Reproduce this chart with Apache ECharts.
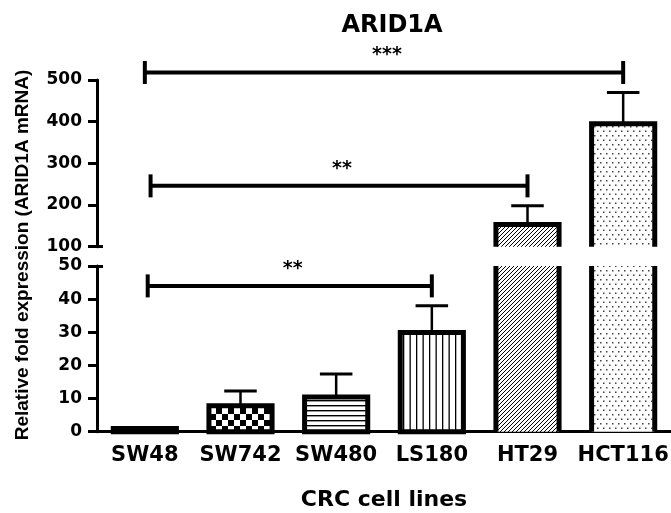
<!DOCTYPE html>
<html>
<head>
<meta charset="utf-8">
<script src="https://cdn.jsdelivr.net/npm/echarts@6/dist/echarts.min.js"></script>
<style>
  html, body { margin: 0; padding: 0; background: #fff; }
  #chart { width: 671px; height: 513px; }
</style>
</head>
<body>
<div id="chart"></div>
<script>
// data
const categories = ['SW48', 'SW742', 'SW480', 'LS180', 'HT29', 'HCT116'];
const meanValues = [1, 7.8, 10.5, 29.9, 153, 395];
const semValues = [0, 4.5, 6.9, 8.1, 45, 75];
const barPatterns = ['solid', 'checker', 'hlines', 'vlines', 'diagonal', 'dots'];

// broken y axis: upper and lower segments
const upperRange = [100, 500, 100];
const lowerRange = [0, 50, 10];

// significance brackets (category index from / to, height, label, segment)
const bracketFrom = [0, 0.06, 0.03];
const bracketTo = [5, 4, 3];
const bracketY = [518, 246, 44];
const bracketLabel = ['***', '**', '**'];
const bracketSegment = [0, 0, 1];

const FONT = '"DejaVu Sans", sans-serif';

function makePattern(kind) {
  if (kind === 'solid') return '#000';
  const c = document.createElement('canvas');
  let w = 6, h = 6;
  if (kind === 'checker') { w = 12; h = 12; }
  if (kind === 'hlines') { w = 4; h = 5; }
  if (kind === 'vlines') { w = 13; h = 4; }
  if (kind === 'diagonal') { w = 4; h = 4; }
  if (kind === 'dots') { w = 6; h = 9; }
  c.width = w; c.height = h;
  const ctx = c.getContext('2d');
  ctx.fillStyle = '#fff';
  ctx.fillRect(0, 0, w, h);
  ctx.fillStyle = '#000';
  ctx.strokeStyle = '#000';
  if (kind === 'checker') {
    ctx.fillRect(0, 0, 6, 6);
    ctx.fillRect(6, 6, 6, 6);
  } else if (kind === 'hlines') {
    ctx.fillRect(0, 0, w, 1.4);
  } else if (kind === 'vlines') {
    ctx.fillRect(0, 0, 1.3, h);
    ctx.fillRect(6.5, 0, 1.3, h);
  } else if (kind === 'diagonal') {
    ctx.lineWidth = 1;
    ctx.beginPath();
    ctx.moveTo(0, 4); ctx.lineTo(4, 0);
    ctx.moveTo(-1, 1); ctx.lineTo(1, -1);
    ctx.moveTo(3, 5); ctx.lineTo(5, 3);
    ctx.stroke();
  } else if (kind === 'dots') {
    ctx.fillStyle = '#444';
    ctx.fillRect(0, 0, 1.5, 1.5);
    ctx.fillRect(3, 4.5, 1.5, 1.5);
  }
  return { image: c, repeat: 'repeat' };
}
const fills = barPatterns.map(makePattern);

function barRenderer(yMin, yMax) {
  return function (params, api) {
    const i = params.dataIndex;
    const v = meanValues[i];
    if (v <= yMin) return;
    const band = api.size([1, 0])[0];
    const half = band * 0.33;
    const base = api.coord([i, yMin]);
    const cx = base[0];
    const yBase = base[1];
    const clipped = v > yMax;
    const yTop = api.coord([i, Math.min(v, yMax)])[1];
    const line = { stroke: '#000', lineWidth: 5, fill: null, lineJoin: 'miter', lineCap: 'butt' };
    const children = [];
    if (!clipped && semValues[i] > 0) {
      const yErr = api.coord([i, v + semValues[i]])[1];
      const cap = band * 0.17;
      children.push({ type: 'line', shape: { x1: cx, y1: yTop, x2: cx, y2: yErr }, style: { stroke: '#000', lineWidth: 2.5 } });
      children.push({ type: 'line', shape: { x1: cx - cap, y1: yErr, x2: cx + cap, y2: yErr }, style: { stroke: '#000', lineWidth: 3 } });
    }
    children.push({ type: 'rect', shape: { x: cx - half, y: yTop, width: half * 2, height: yBase - yTop }, style: { fill: fills[i] } });
    if (clipped) {
      children.push({ type: 'line', shape: { x1: cx - half, y1: yBase, x2: cx - half, y2: yTop }, style: line });
      children.push({ type: 'line', shape: { x1: cx + half, y1: yBase, x2: cx + half, y2: yTop }, style: line });
    } else if (yMin > 0) {
      children.push({ type: 'polyline', shape: { points: [[cx - half, yBase], [cx - half, yTop], [cx + half, yTop], [cx + half, yBase]] }, style: line });
    } else {
      children.push({ type: 'rect', shape: { x: cx - half, y: yTop, width: half * 2, height: yBase - yTop }, style: line });
    }
    return { type: 'group', children: children };
  };
}

function bracketRenderer(list) {
  return function (params, api) {
    const k = list[params.dataIndex];
    const band = api.size([1, 0])[0];
    const i0 = Math.floor(bracketFrom[k]);
    const i1 = Math.floor(bracketTo[k]);
    const p0 = api.coord([i0, bracketY[k]]);
    const x1 = p0[0] + (bracketFrom[k] - i0) * band;
    const x2 = api.coord([i1, bracketY[k]])[0] + (bracketTo[k] - i1) * band;
    const y = p0[1];
    const capH = 11.5;
    const st = { stroke: '#000', lineWidth: 4 };
    return {
      type: 'group',
      children: [
        { type: 'line', shape: { x1: x1, y1: y, x2: x2, y2: y }, style: st },
        { type: 'line', shape: { x1: x1, y1: y - capH, x2: x1, y2: y + capH }, style: st },
        { type: 'line', shape: { x1: x2, y1: y - capH, x2: x2, y2: y + capH }, style: st },
        { type: 'text', style: { text: bracketLabel[k], x: (x1 + x2) / 2 + 3, y: y - 17, align: 'center', verticalAlign: 'middle', font: 'bold 19px ' + FONT, fill: '#000' } }
      ]
    };
  };
}

const axisBlack = { color: '#000', width: 3 };
const tickLabel = { color: '#000', fontFamily: FONT, fontWeight: 'bold', fontSize: 17, margin: 15 };

const upperBrackets = [0, 1, 2].filter(k => bracketSegment[k] === 0);
const lowerBrackets = [0, 1, 2].filter(k => bracketSegment[k] === 1);

const chart = echarts.init(document.getElementById('chart'), null, { renderer: 'canvas' });
chart.setOption({
  animation: false,
  backgroundColor: '#fff',
  title: {
    text: 'ARID1A',
    left: 392,
    top: 14,
    padding: 0,
    textAlign: 'center',
    textStyle: { color: '#000', fontFamily: FONT, fontWeight: 'bold', fontSize: 24 }
  },
  graphic: [{
    type: 'text',
    x: 23,
    y: 255,
    rotation: Math.PI / 2,
    style: {
      text: 'Relative fold expression (ARID1A mRNA)',
      align: 'center',
      verticalAlign: 'middle',
      font: 'bold 19px "Liberation Sans", Arial, sans-serif',
      fill: '#000'
    }
  }],
  grid: [
    { left: 97, right: 0, top: 80, height: 166.7, outerBoundsMode: 'none' },
    { left: 97, right: 0, top: 266, height: 165.7, outerBoundsMode: 'none' }
  ],
  xAxis: [
    { gridIndex: 0, type: 'category', data: categories, show: false },
    {
      gridIndex: 1, type: 'category', data: categories,
      axisLine: { lineStyle: axisBlack },
      axisTick: { alignWithLabel: true, length: 7, lineStyle: { color: '#000', width: 2.5 } },
      axisLabel: { color: '#000', fontFamily: FONT, fontWeight: 'bold', fontSize: 21, margin: 13, interval: 0 },
      name: 'CRC cell lines',
      nameLocation: 'middle',
      nameGap: 58,
      nameTextStyle: { color: '#000', fontFamily: FONT, fontWeight: 'bold', fontSize: 22 }
    }
  ],
  yAxis: [
    {
      gridIndex: 0, type: 'value', min: upperRange[0], max: upperRange[1], interval: upperRange[2],
      axisLine: { show: true, lineStyle: axisBlack },
      axisTick: { show: true, length: 9, lineStyle: axisBlack },
      axisLabel: tickLabel,
      splitLine: { show: false }
    },
    {
      gridIndex: 1, type: 'value', min: lowerRange[0], max: lowerRange[1], interval: lowerRange[2],
      axisLine: { show: true, lineStyle: axisBlack },
      axisTick: { show: true, length: 9, lineStyle: axisBlack },
      axisLabel: tickLabel,
      splitLine: { show: false }
    },
    {
      gridIndex: 0, type: 'value', position: 'left', min: upperRange[0], max: upperRange[1],
      axisLine: { show: false }, axisLabel: { show: false }, splitLine: { show: false },
      axisTick: { show: true, inside: true, length: 6, customValues: [upperRange[0]], lineStyle: axisBlack }
    },
    {
      gridIndex: 1, type: 'value', position: 'left', min: lowerRange[0], max: lowerRange[1],
      axisLine: { show: false }, axisLabel: { show: false }, splitLine: { show: false },
      axisTick: { show: true, inside: true, length: 6, customValues: [lowerRange[1]], lineStyle: axisBlack }
    }
  ],
  series: [
    {
      type: 'custom', xAxisIndex: 0, yAxisIndex: 0, clip: false,
      renderItem: barRenderer(upperRange[0], upperRange[1]),
      data: categories.map((c, i) => [i, meanValues[i]])
    },
    {
      type: 'custom', xAxisIndex: 1, yAxisIndex: 1, clip: false,
      renderItem: barRenderer(lowerRange[0], lowerRange[1]),
      data: categories.map((c, i) => [i, meanValues[i]])
    },
    {
      type: 'custom', xAxisIndex: 0, yAxisIndex: 0, clip: false, z: 3,
      renderItem: bracketRenderer(upperBrackets),
      data: upperBrackets.map(k => [bracketTo[k], bracketY[k]])
    },
    {
      type: 'custom', xAxisIndex: 1, yAxisIndex: 1, clip: false, z: 3,
      renderItem: bracketRenderer(lowerBrackets),
      data: lowerBrackets.map(k => [bracketTo[k], bracketY[k]])
    }
  ]
});
</script>
</body>
</html>
